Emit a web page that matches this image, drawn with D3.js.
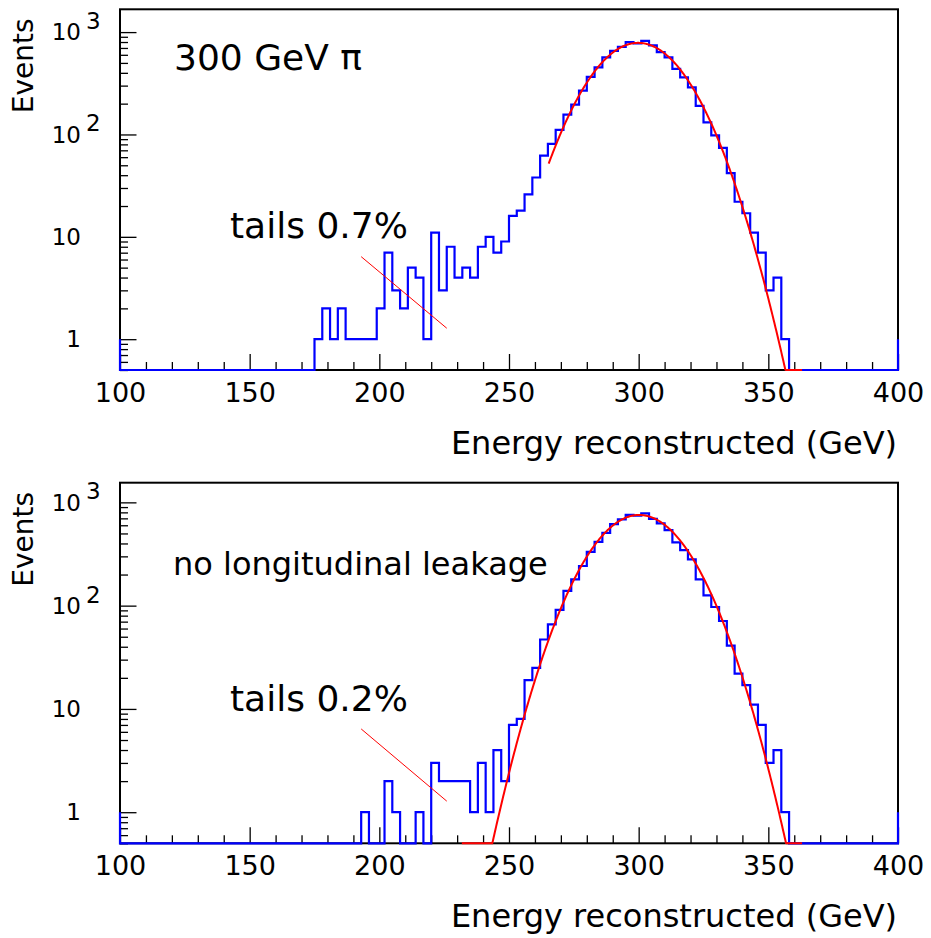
<!DOCTYPE html>
<html><head><meta charset="utf-8">
<script src="https://cdn.jsdelivr.net/npm/d3@7/dist/d3.min.js"></script>
<style>html,body{margin:0;padding:0;background:#fff;} svg{display:block;}</style>
</head><body>
<svg id="c" width="931" height="938"></svg>
<script>
// ---------------- data ----------------
const binWidth = 3;                       // GeV per bin
const xDomain = [100, 400];
const xTickValues = [100, 150, 200, 250, 300, 350, 400];
const yMajorTicks = [1, 10, 100, 1000];
const yTickBase = ["1", "10", "10", "10"];
const yTickExp  = ["", "", "2", "3"];

// top panel: 300 GeV pi (with leakage)
const topBinLow = [175,178,181,184,187,190,193,196,199,202,205,208,211,214,217,220,223,226,229,232,
  235,238,241,244,247,250,253,256,259,262,265,268,271,274,277,280,283,286,289,292,
  295,298,301,304,307,310,313,316,319,322,325,328,331,334,337,340,343,346,349,352,355];
const topCounts = [1,2,1,2,1,1,1,1,2,7,3,2,5,4,1,11,3,8,4,5,
  4,8,10,7,9,16,18,26,38,62,81,111,156,196,268,366,452,566,656,718,
  797,774,821,741,637,566,438,361,289,190,131,98,74,42,22,17,11,7,3,4,1];
const topFitParams = [785, 299.8, 14.8];  // constant, mean, sigma
const topFitRange = [265.3, 363];

// bottom panel: no longitudinal leakage
const botBinLow = [193,196,199,202,205,208,211,214,217,220,223,226,229,232,235,238,241,244,247,250,
  253,256,259,262,265,268,271,274,277,280,283,286,289,292,295,298,301,304,307,310,
  313,316,319,322,325,328,331,334,337,340,343,346,349,352,355];
const botCounts = [1,0,0,2,1,0,0,1,0,3,2,2,2,2,1,3,1,4,2,7,
  8,19,25,47,66,91,139,180,242,332,415,507,615,684,757,745,781,693,625,539,
  410,345,281,180,126,97,71,41,22,17,11,7,3,4,1];
const botFitParams = [755, 300.2, 14.8];
const botFitRange = [231.8, 363];

const tailLine = [[193, 6.4], [226, 1.28]];
const edgeLevel = 1;

// ---------------- drawing ----------------
const svg = d3.select("#c");
const FONT = "DejaVu Sans, Liberation Sans, sans-serif";
const left = 120, right = 898;

const x = d3.scaleLinear().domain(xDomain).range([left, right]);

function drawPanel(cfg) {
  const yMin = 0.5;
  const y = d3.scaleLog().domain([yMin, cfg.yMax]).range([cfg.y1, cfg.y0]);
  const yc = v => y(Math.max(v, yMin));
  const g = svg.append("g");

  // frame
  g.append("rect").attr("x", left).attr("y", cfg.y0).attr("width", right - left).attr("height", cfg.y1 - cfg.y0)
    .attr("fill", "none").attr("stroke", "#000").attr("stroke-width", 2);

  // axes ticks (inward)
  const minor = [];
  [0.1, 1, 10, 100].forEach(d => { for (let k = 2; k <= 9; k++) { const v = d * k; if (v >= yMin && v <= cfg.yMax) minor.push(v); } });
  g.append("g").attr("transform", `translate(${left},0)`)
    .call(d3.axisLeft(y).tickValues(minor).tickSize(-8).tickFormat(""))
    .call(a => a.select(".domain").remove());
  g.append("g").attr("transform", `translate(${left},0)`)
    .call(d3.axisLeft(y).tickValues(yMajorTicks).tickSize(-16.5).tickFormat(""))
    .call(a => a.select(".domain").remove());
  const xMinor = d3.range(xDomain[0], xDomain[1] + 1, 10).filter(v => v % 50 !== 0);
  g.append("g").attr("transform", `translate(0,${cfg.y1})`)
    .call(d3.axisBottom(x).tickValues(xMinor).tickSize(-8).tickFormat(""))
    .call(a => a.select(".domain").remove());
  g.append("g").attr("transform", `translate(0,${cfg.y1})`)
    .call(d3.axisBottom(x).tickValues(xTickValues).tickSize(-16).tickPadding(13).tickFormat(d3.format("d")))
    .call(a => a.select(".domain").remove())
    .call(a => a.selectAll("text").attr("font-family", FONT).attr("font-size", 27).attr("fill", "#000"));
  g.selectAll(".tick line").attr("stroke", "#000").attr("stroke-width", 1.3);

  // y labels
  yMajorTicks.forEach((v, i) => {
    g.append("text").attr("x", 81).attr("y", y(v)).attr("dy", "0.36em")
      .attr("text-anchor", "end").attr("font-family", FONT).attr("font-size", 23).text(yTickBase[i]);
    if (yTickExp[i]) {
      g.append("text").attr("x", 86).attr("y", y(v) - 3)
        .attr("font-family", FONT).attr("font-size", 23).text(yTickExp[i]);
    }
  });

  // histogram
  const counts = new Map(cfg.binLow.map((b, i) => [b, cfg.counts[i]]));
  const pts = [[xDomain[0], edgeLevel], [xDomain[0], 0]];
  for (let b = xDomain[0]; b < xDomain[1]; b += binWidth) {
    const c = counts.get(b) || 0;
    pts.push([b, c], [b + binWidth, c]);
  }
  pts.push([xDomain[1], 0], [xDomain[1], edgeLevel]);
  const line = d3.line().x(d => x(d[0])).y(d => yc(d[1]));
  g.append("path").attr("d", line(pts)).attr("fill", "none")
    .attr("stroke", "#0000ff").attr("stroke-width", 2.2).attr("stroke-linejoin", "miter");

  // fit
  const [A, mu, sg] = cfg.fit;
  const fx = d3.range(cfg.fitRange[0], cfg.fitRange[1], 0.25).concat([cfg.fitRange[1]]);
  const fpts = fx.map(v => [v, A * Math.exp(-0.5 * ((v - mu) / sg) ** 2)]);
  g.append("path").attr("d", line(fpts)).attr("fill", "none")
    .attr("stroke", "#ff0000").attr("stroke-width", 2);

  // tail annotation line
  g.append("path").attr("d", line(tailLine)).attr("stroke", "#ff0000").attr("stroke-width", 1).attr("fill", "none");

  // texts
  g.append("text").attr("x", cfg.labelX).attr("y", cfg.labelY).attr("font-family", FONT)
    .attr("font-size", cfg.labelSize).text(cfg.label);
  g.append("text").attr("x", 230).attr("y", cfg.tailY).attr("font-family", FONT)
    .attr("font-size", 36).text(cfg.tail);
  g.append("text").attr("x", 897).attr("y", cfg.y1 + 84).attr("text-anchor", "end")
    .attr("font-family", FONT).attr("font-size", 32).text("Energy reconstructed (GeV)");
  g.append("text").attr("transform", `translate(33,${cfg.y0 + 104}) rotate(-90)`)
    .attr("font-family", FONT).attr("font-size", 28).text("Events");
}

drawPanel({ y0: 9.3, y1: 370, yMax: 1670, binLow: topBinLow, counts: topCounts,
  fit: topFitParams, fitRange: topFitRange, label: "300 GeV π", labelX: 174, labelY: 70, labelSize: 36,
  tail: "tails 0.7%", tailY: 238 });
drawPanel({ y0: 482.7, y1: 843.3, yMax: 1550, binLow: botBinLow, counts: botCounts,
  fit: botFitParams, fitRange: botFitRange, label: "no longitudinal leakage", labelX: 173, labelY: 575, labelSize: 32,
  tail: "tails 0.2%", tailY: 711 });
</script>
</body></html>
